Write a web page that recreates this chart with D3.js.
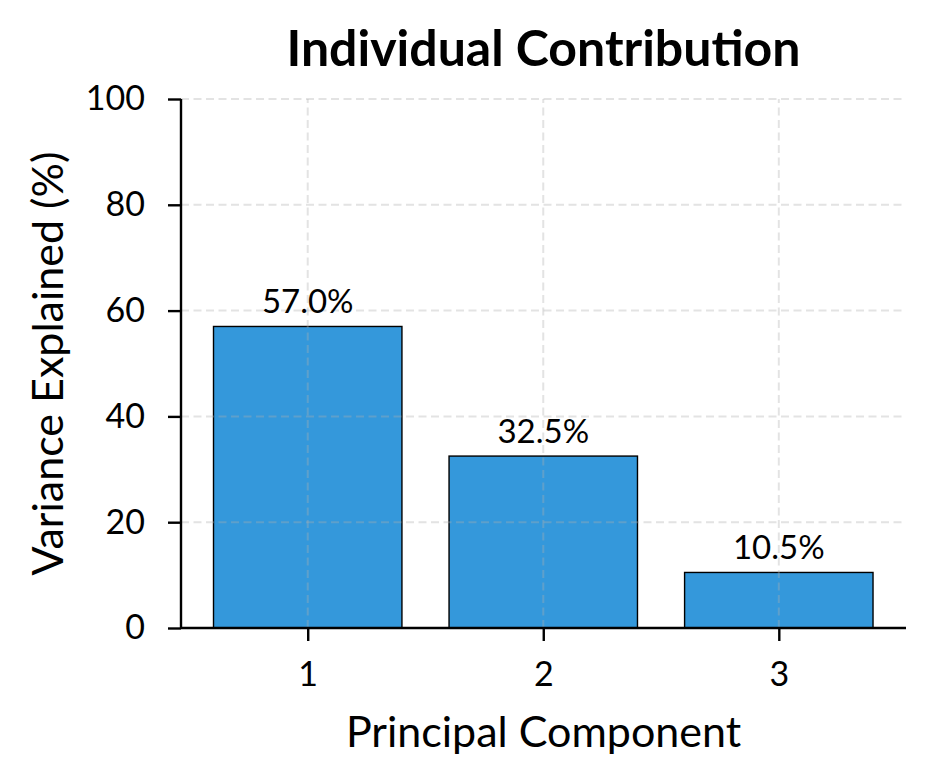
<!DOCTYPE html>
<html>
<head>
<meta charset="utf-8">
<script src="https://cdn.jsdelivr.net/npm/d3@7"></script>
<style>
body { margin: 0; background: #fff; }
text { font-family: Lato, "Noto Sans", sans-serif; }
</style>
</head>
<body>
<div id="chart"></div>
<script>
var width = 934
var height = 784

// data
var components = [1, 2, 3]
var variance = [57.0, 32.5, 10.5]
var yTicks = [0, 20, 40, 60, 80, 100]

var margin = {left: 181, right: 28, top: 99, bottom: 156}
var font = "Lato, 'Noto Sans', sans-serif"

var svg = d3.select("#chart")
    .append("svg")
    .attr("width", width)
    .attr("height", height)

var x = d3.scaleLinear().domain([0.462, 3.54]).range([margin.left, width - margin.right])
var y = d3.scaleLinear().domain([0, 100]).range([height - margin.bottom, margin.top])
var barW = x(1.4) - x(0.6)

// bars
svg.selectAll("rect.bar")
    .data(variance)
    .enter().append("rect")
    .attr("class", "bar")
    .attr("x", function(d, i) { return x(components[i]) - barW / 2 })
    .attr("y", function(d) { return y(d) })
    .attr("width", barW)
    .attr("height", function(d) { return y(0) - y(d) })
    .style("fill", "#3498db")
    .style("stroke", "#000")
    .style("stroke-width", 1.4)

// grid (drawn over the bars, like the original)
var grid = svg.append("g").attr("class", "grid")
grid.selectAll("line.h")
    .data(yTicks)
    .enter().append("line")
    .attr("x1", margin.left).attr("x2", width - margin.right)
    .attr("y1", function(d) { return y(d) }).attr("y2", function(d) { return y(d) })
    .style("stroke", "#b0b0b0").style("stroke-opacity", 0.35)
    .style("stroke-width", 2).style("stroke-dasharray", "8,4.5")
grid.selectAll("line.v")
    .data(components)
    .enter().append("line")
    .attr("y1", y(0)).attr("y2", y(100))
    .attr("x1", function(d) { return x(d) }).attr("x2", function(d) { return x(d) })
    .style("stroke", "#b0b0b0").style("stroke-opacity", 0.35)
    .style("stroke-width", 2).style("stroke-dasharray", "8,4.5")

// value labels
svg.selectAll("text.val")
    .data(variance)
    .enter().append("text")
    .attr("x", function(d, i) { return x(components[i]) })
    .attr("y", function(d) { return y(d) - 13 })
    .attr("text-anchor", "middle")
    .style("font-size", "33px")
    .text(function(d) { return d.toFixed(1) + "%" })

// axes
var xAxis = svg.append("g")
    .attr("transform", "translate(0," + y(0) + ")")
    .call(d3.axisBottom(x).tickValues(components).tickSize(13).tickPadding(21).tickFormat(d3.format("d")))
var yAxis = svg.append("g")
    .attr("transform", "translate(" + margin.left + ",0)")
    .call(d3.axisLeft(y).tickValues(yTicks).tickSize(13).tickPadding(23))
svg.selectAll(".domain").style("stroke-width", 2.4)
svg.selectAll(".tick line").style("stroke-width", 2.4)
svg.selectAll(".tick text").style("font-size", "34px").style("font-family", font)
xAxis.select(".domain").attr("d", "M" + margin.left + ",0H" + (width - margin.right))
yAxis.select(".domain").attr("d", "M0," + y(0) + "V" + y(100))

// titles
svg.append("text").attr("x", (margin.left + width - margin.right) / 2).attr("y", 66)
    .attr("text-anchor", "middle").style("font-size", "50px").style("font-weight", "bold")
    .text("Individual Contribution")
svg.append("text").attr("x", (margin.left + width - margin.right) / 2).attr("y", 747)
    .attr("text-anchor", "middle").style("font-size", "43px")
    .text("Principal Component")
svg.append("text")
    .attr("transform", "translate(63," + (y(50)) + ") rotate(-90)")
    .attr("text-anchor", "middle").style("font-size", "43px")
    .text("Variance Explained (%)")
</script>
</body>
</html>
